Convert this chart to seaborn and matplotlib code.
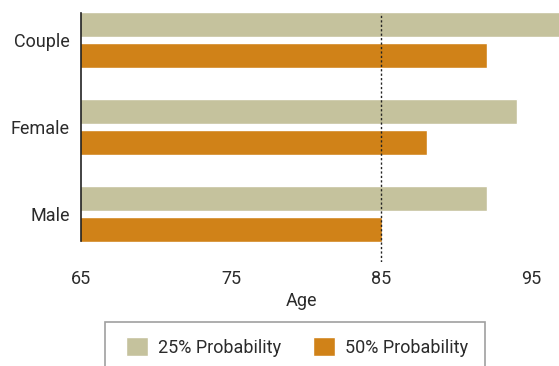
import matplotlib
matplotlib.use("Agg")
import matplotlib.pyplot as plt
import seaborn as sns
import pandas as pd
from matplotlib.patches import Rectangle

groups = ["Couple", "Female", "Male"]
series = ["25% Probability", "50% Probability"]
age_25 = [97.5, 94.1, 92.1]
age_50 = [92.1, 88.1, 85.05]
xticks = [65, 75, 85, 95]
colors = ["#C5C29D", "#D08218"]

df = pd.DataFrame({
    "group": groups * 2,
    "series": [series[0]] * 3 + [series[1]] * 3,
    "age": age_25 + age_50,
})

sns.set_theme(style="white")
plt.rcParams["font.family"] = ["Roboto", "DejaVu Sans"]

W, H = 559, 366
fig = plt.figure(figsize=(W / 100, H / 100), dpi=100)
# axes in pixel coords: left 81, right 559, top 13, bottom 262
ax = fig.add_axes([81 / W, 1 - 262 / H, (559 - 81) / W, (262 - 13) / H])

sns.barplot(data=df, y="group", x="age", hue="series", orient="h",
            palette=colors, width=0.713, gap=0.19, saturation=1,
            ax=ax, legend=True)

x_max = 65 + (559 - 81) / 15
ax.set_xlim(65, x_max)
ax.set_ylim(2.552, -0.310)
ax.axvline(85, color="#222222", linestyle=(0, (1.6, 1.6)), linewidth=1.0, zorder=5)

for s in ["top", "right", "bottom"]:
    ax.spines[s].set_visible(False)
ax.spines["left"].set_color("#222222")
ax.spines["left"].set_linewidth(1.2)
ax.spines["left"].set_bounds(-0.310, 2.310)

fs = 13
txt_color = "#2b2b2b"
ax.set_xticks(xticks)
ax.set_xticklabels([str(t) for t in xticks])
ax.tick_params(axis="x", length=0, pad=6, labelsize=fs, colors=txt_color)
ax.tick_params(axis="y", length=0, pad=8, labelsize=fs, colors=txt_color)
ax.set_xlabel("")
ax.set_ylabel("")

fig.text(301 / W, 1 - 301 / H, "Age", ha="center", va="center",
         fontsize=fs, color=txt_color)

handles, labels = ax.get_legend_handles_labels()
ax.get_legend().remove()
leg = fig.legend(handles, labels, loc="center left", ncol=2,
                 bbox_to_anchor=(110 / W, 1 - 347 / H), frameon=False,
                 fontsize=fs, handlelength=1.2, handleheight=1.2,
                 handletextpad=0.55, columnspacing=1.8, labelcolor=txt_color)

fig.patches.append(Rectangle((105 / W, -0.05), (485 - 105) / W, (1 - 322 / H) + 0.05,
                             transform=fig.transFigure, fill=False,
                             edgecolor="#A0A0A0", linewidth=1.2))

fig.savefig("out.png", dpi=100)
